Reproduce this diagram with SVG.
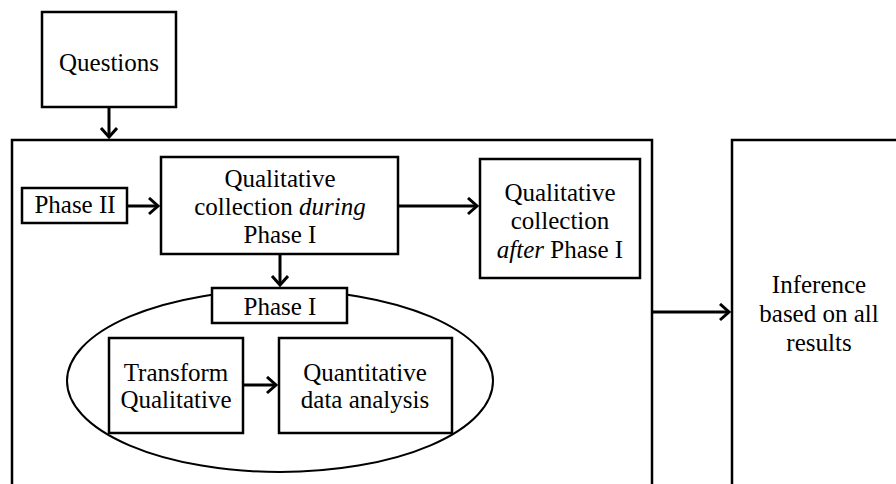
<svg xmlns="http://www.w3.org/2000/svg" width="896" height="484" viewBox="0 0 896 484">
<defs>
<marker id="ah" markerUnits="userSpaceOnUse" markerWidth="16" markerHeight="20" refX="11" refY="9" orient="auto">
<path d="M2,1 L11,9 L2,17" fill="none" stroke="#000" stroke-width="3" stroke-linejoin="miter"/>
</marker>
<style>
.box{fill:#fff;stroke:#000;stroke-width:2.5}
.t{font-family:'Liberation Serif','Times New Roman','DejaVu Serif',serif;font-size:25px;fill:#000;text-anchor:middle}
.c{fill:none;stroke:#000;stroke-width:3;marker-end:url(#ah)}
</style>
</defs>
<rect width="896" height="484" fill="#fff"/>
<g id="container"><rect class="box" x="12" y="140" width="640" height="400"/></g>
<g id="inference"><rect class="box" x="732" y="140" width="200" height="400"/>
<text class="t" x="819" y="293">Inference</text>
<text class="t" x="819" y="322">based on all</text>
<text class="t" x="819" y="351">results</text></g>
<g id="questions"><rect class="box" x="42" y="12" width="134" height="95"/>
<text class="t" x="109" y="71">Questions</text></g>
<g id="phase2"><rect class="box" x="22" y="188" width="105" height="35"/>
<text class="t" x="75" y="213">Phase II</text></g>
<g id="qual-during"><rect class="box" x="161" y="157" width="237" height="97"/>
<text class="t" x="280" y="187">Qualitative</text>
<text class="t" x="280" y="215">collection <tspan font-style="italic">during</tspan></text>
<text class="t" x="280" y="243">Phase I</text></g>
<g id="qual-after"><rect class="box" x="480" y="159" width="160" height="119"/>
<text class="t" x="560" y="201">Qualitative</text>
<text class="t" x="560" y="229">collection</text>
<text class="t" x="560" y="258"><tspan font-style="italic">after</tspan> Phase I</text></g>
<g id="phase1-ellipse"><ellipse cx="280" cy="381" rx="213" ry="91" fill="#fff" stroke="#000" stroke-width="2"/></g>
<g id="phase1"><rect class="box" x="212" y="288" width="135" height="35"/>
<text class="t" x="280" y="315">Phase I</text></g>
<g id="transform"><rect class="box" x="109" y="338" width="134" height="95"/>
<text class="t" x="176" y="381">Transform</text>
<text class="t" x="176" y="408">Qualitative</text></g>
<g id="quant"><rect class="box" x="279" y="338" width="173" height="95"/>
<text class="t" x="365" y="381">Quantitative</text>
<text class="t" x="365" y="408">data analysis</text></g>
<g id="connectors">
<path class="c" d="M109,108 L109,137"/>
<path class="c" d="M128,206 L158,206"/>
<path class="c" d="M399,206 L477,206"/>
<path class="c" d="M280,255 L280,285"/>
<path class="c" d="M244,385 L276,385"/>
<path class="c" d="M653,312 L729,312"/>
</g>
</svg>
